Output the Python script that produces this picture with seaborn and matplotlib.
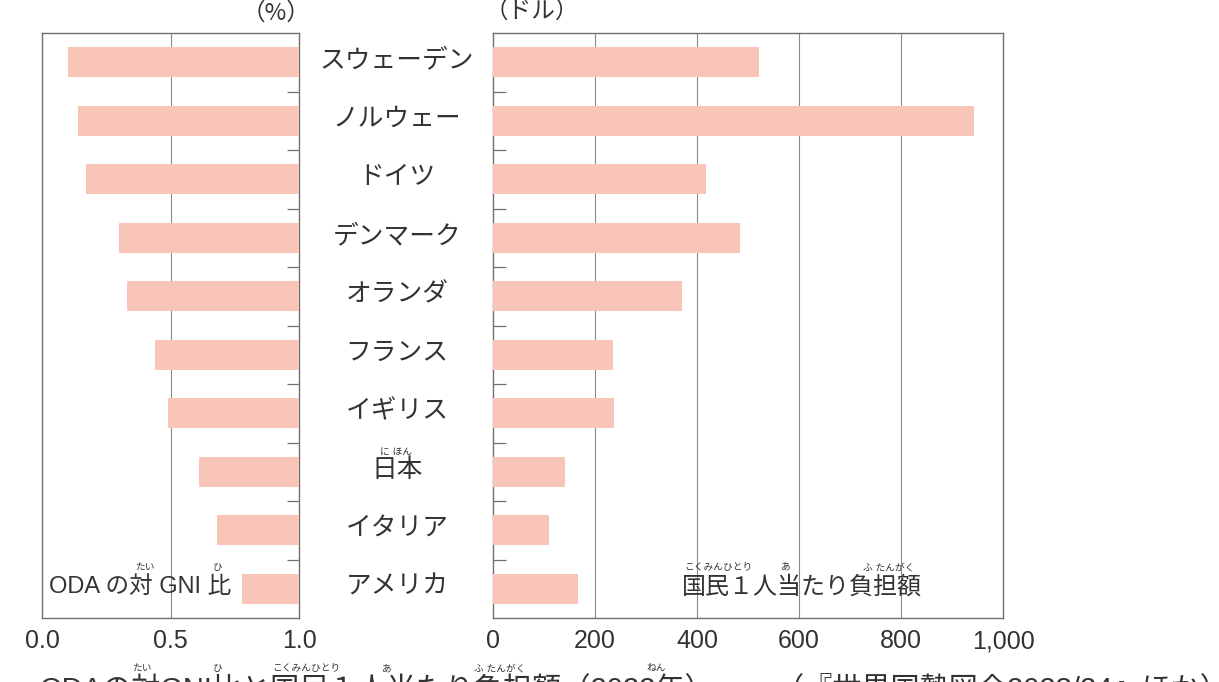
import numpy as np
import pandas as pd
import matplotlib
matplotlib.use("Agg")
import matplotlib.pyplot as plt
import matplotlib.transforms as mtransforms
import seaborn as sns

# ---- data ----
countries = ["スウェーデン", "ノルウェー", "ドイツ", "デンマーク", "オランダ",
             "フランス", "イギリス", "日本", "イタリア", "アメリカ"]
oda_gni_ratio = [0.90, 0.86, 0.83, 0.70, 0.67, 0.56, 0.51, 0.39, 0.32, 0.22]   # %
per_capita_usd = [521, 943, 418, 484, 371, 235, 237, 141, 110, 166]            # ドル
left_ticks = [1.0, 0.5, 0.0]
left_tick_labels = ["0.0", "0.5", "1.0"]
right_ticks = [0, 200, 400, 600, 800, 1000]
right_tick_labels = ["0", "200", "400", "600", "800", "1,000"]

df = pd.DataFrame({"country": countries, "ratio": oda_gni_ratio, "usd": per_capita_usd})

sns.set_theme(style="white")
plt.rcParams["font.family"] = ["Liberation Sans", "Noto Sans CJK JP", "DejaVu Sans"]

W, H = 1219, 682
fig = plt.figure(figsize=(W / 100, H / 100), dpi=100)
fig.patch.set_facecolor("white")

def fx(px):
    return px / W

def fy(py):
    return 1 - py / H

ax_top, ax_bot = 33, 618
ax1 = fig.add_axes([fx(42), fy(ax_bot), fx(299) - fx(42), fy(ax_top) - fy(ax_bot)])
ax2 = fig.add_axes([fx(493), fy(ax_bot), fx(1003) - fx(493), fy(ax_top) - fy(ax_bot)])

bar_color = "#F8C5B8"
text_color = "#333333"
spine_color = "#707070"
grid_color = "#8a8a8a"

sns.barplot(data=df, x="ratio", y="country", orient="h", color=bar_color,
            width=0.52, ax=ax1, saturation=1, zorder=3)
sns.barplot(data=df, x="usd", y="country", orient="h", color=bar_color,
            width=0.52, ax=ax2, saturation=1, zorder=3)

n = len(countries)
for ax in (ax1, ax2):
    ax.set_ylim(n - 0.5, -0.5)
    ax.set_xlabel("")
    ax.set_ylabel("")
    ax.set_yticks(np.arange(0.5, n - 1, 1.0))
    ax.set_yticklabels([])
    for s in ax.spines.values():
        s.set_visible(True)
        s.set_color(spine_color)
        s.set_linewidth(1.0)
    ax.tick_params(axis="x", length=0, pad=8, labelsize=18, labelcolor=text_color)
    ax.tick_params(axis="y", direction="in", length=9, width=0.9, color=spine_color)
    for b in ax.patches:
        b.set_linewidth(0)

# left panel: bars grow from the right edge
ax1.set_xlim(1.0, 0.0)
ax1.set_xticks(left_ticks)
ax1.set_xticklabels(left_tick_labels)
ax1.yaxis.tick_right()
ax1.axvline(0.5, color=grid_color, lw=0.8, zorder=1)

ax2.set_xlim(0, 1000)
ax2.set_xticks(right_ticks)
ax2.set_xticklabels(right_tick_labels)
ax2.yaxis.tick_left()
for g in right_ticks[1:-1]:
    ax2.axvline(g, color=grid_color, lw=0.8, zorder=1)

# country names between the panels
trans = mtransforms.blended_transform_factory(fig.transFigure, ax1.transData)
for i, c in enumerate(countries):
    ax1.text(fx(397), i - 0.03, c, transform=trans, ha="center", va="center",
             fontsize=18.5, color=text_color, clip_on=False)
# ruby for 日本
ax1.text(fx(396), countries.index("日本") - 0.33, "に ほん", transform=trans,
         ha="center", va="center", fontsize=7, color=text_color, clip_on=False)

# units
fig.text(fx(276), fy(13), "（%）", ha="center", va="center", fontsize=17,
         color=text_color, family=["Noto Sans CJK JP", "DejaVu Sans"])
fig.text(fx(532), fy(11), "（ドル）", ha="center", va="center", fontsize=17,
         color=text_color, family=["Noto Sans CJK JP", "DejaVu Sans"])

# panel titles
fig.text(fx(49), fy(587), "ODA の対 GNI 比", ha="left", va="center", fontsize=17, color=text_color)
fig.text(fx(145), fy(567), "たい", ha="center", va="center", fontsize=7, color=text_color)
fig.text(fx(218), fy(567), "ひ", ha="center", va="center", fontsize=7, color=text_color)

fig.text(fx(682), fy(587), "国民１人当たり負担額", ha="left", va="center", fontsize=17.3, color=text_color)
fig.text(fx(718), fy(567), "こくみんひとり", ha="center", va="center", fontsize=7, color=text_color)
fig.text(fx(786), fy(567), "あ", ha="center", va="center", fontsize=7, color=text_color)
fig.text(fx(889), fy(567), "ふ たんがく", ha="center", va="center", fontsize=7, color=text_color)

# bottom caption (cut off by the image edge as in the reference)
ry = 668
fig.text(fx(142), fy(ry), "たい", ha="center", va="center", fontsize=7, color=text_color)
fig.text(fx(218), fy(ry), "ひ", ha="center", va="center", fontsize=7, color=text_color)
fig.text(fx(306), fy(ry), "こくみんひとり", ha="center", va="center", fontsize=7, color=text_color)
fig.text(fx(387), fy(ry), "あ", ha="center", va="center", fontsize=7, color=text_color)
fig.text(fx(500), fy(ry), "ふ たんがく", ha="center", va="center", fontsize=7, color=text_color)
fig.text(fx(656), fy(ry), "ねん", ha="center", va="center", fontsize=7, color=text_color)
fig.text(fx(40), fy(676), "ODAの対GNI比と国民１人当たり負担額（2022年）",
         ha="left", va="top", fontsize=21, color=text_color)
fig.text(fx(775), fy(676), "（『世界国勢図会2023/24』ほか）",
         ha="left", va="top", fontsize=21, color=text_color)

fig.savefig("out.png", dpi=100, facecolor="white")
